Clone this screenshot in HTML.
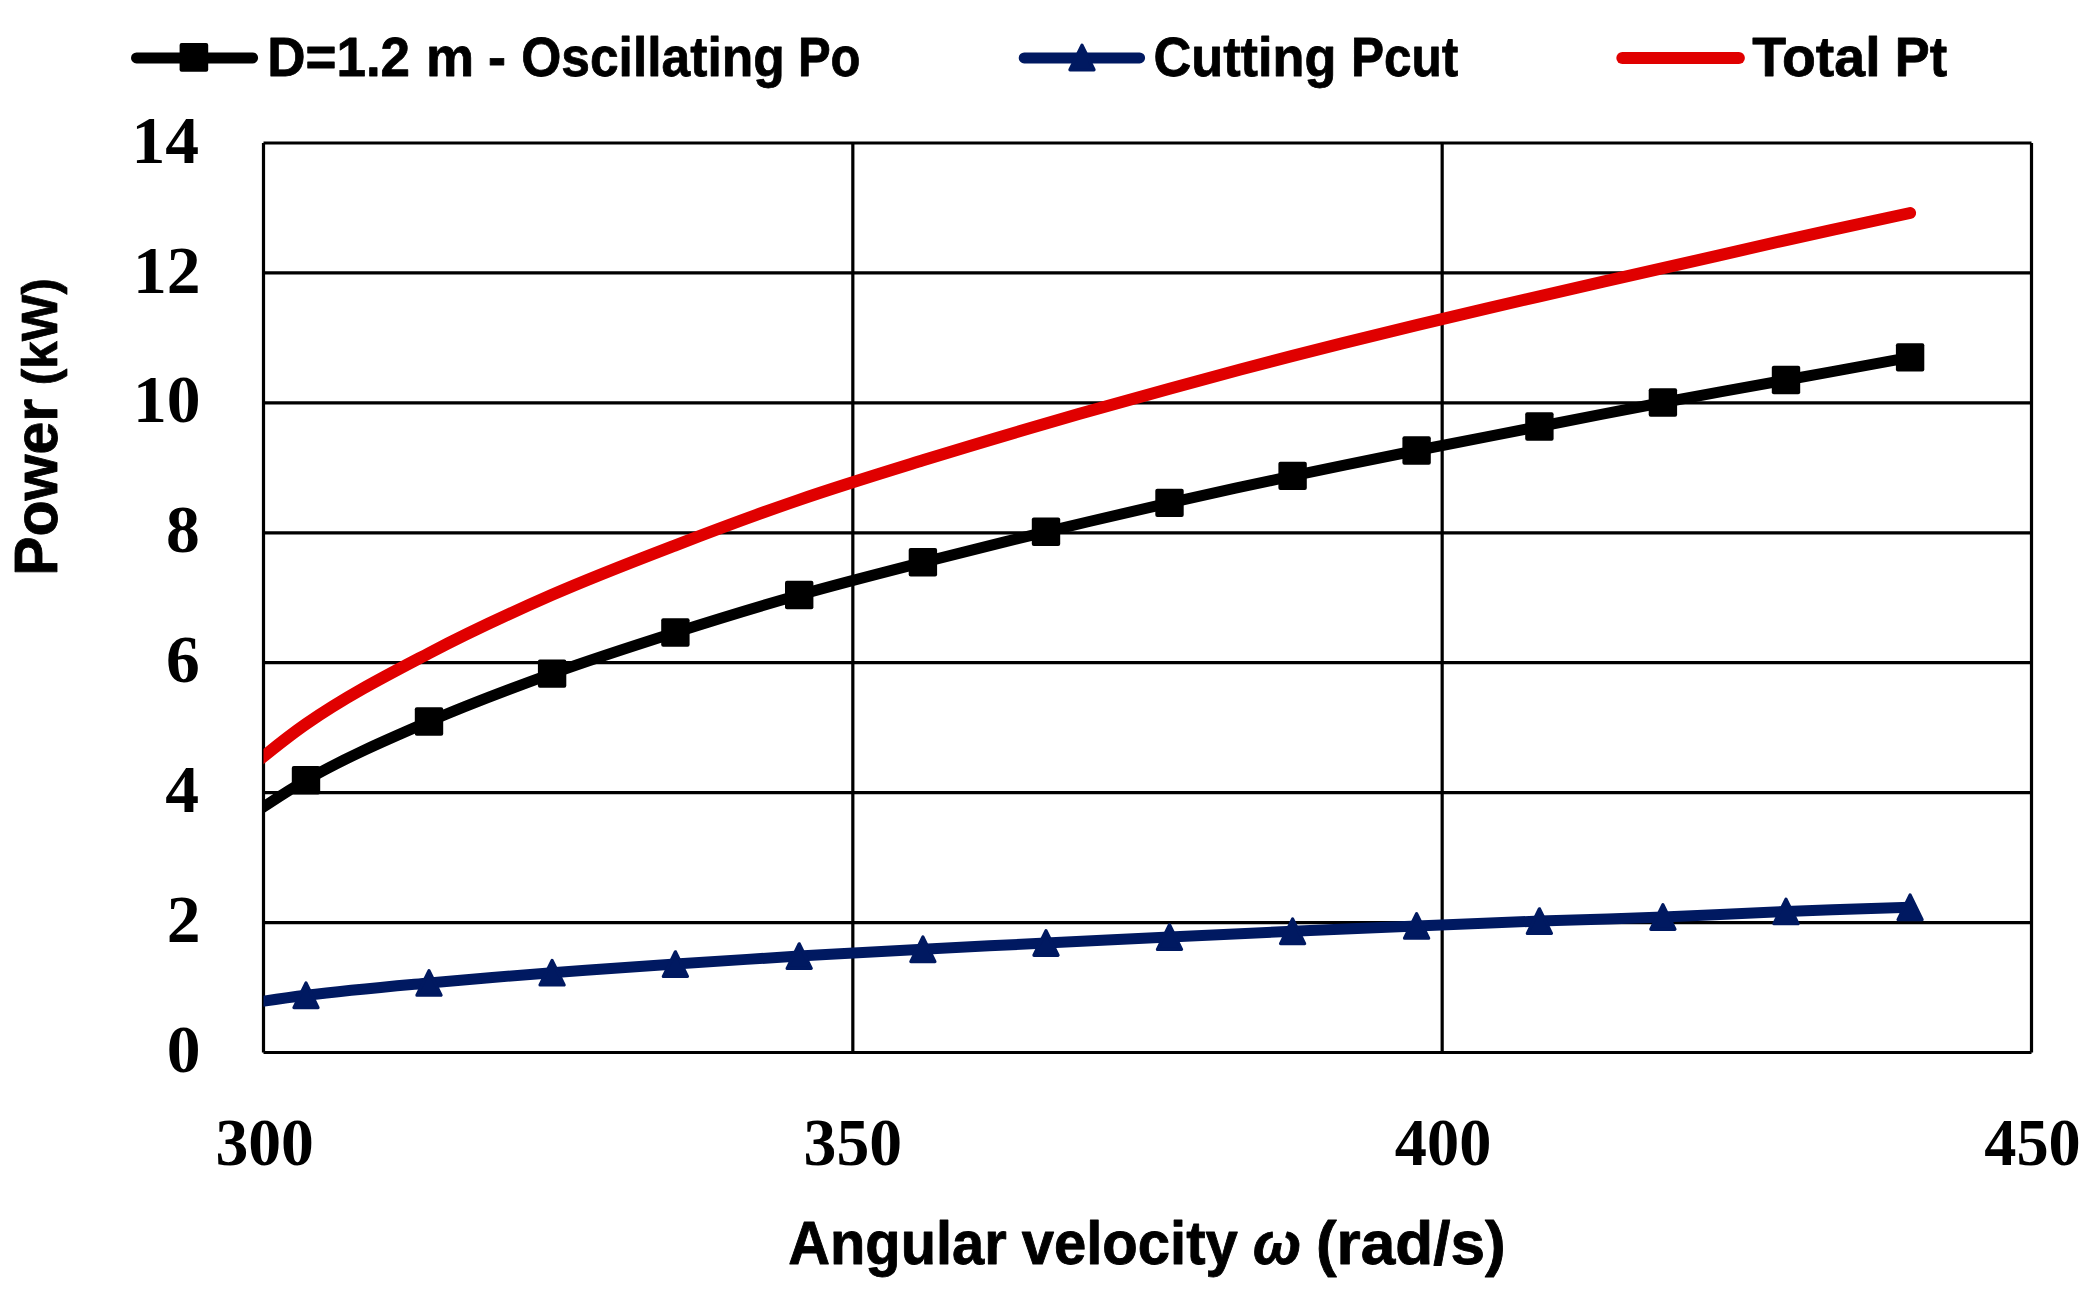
<!DOCTYPE html>
<html lang="en"><head><meta charset="utf-8"><title>Power vs angular velocity</title>
<style>html,body{margin:0;padding:0;background:#fff;overflow:hidden}svg{display:block}</style></head>
<body>
<svg width="2100" height="1296" viewBox="0 0 2100 1296">
<rect width="2100" height="1296" fill="#fff"/>
<path d="M263.50 1052.50H2031.50M263.50 922.57H2031.50M263.50 792.64H2031.50M263.50 662.71H2031.50M263.50 532.79H2031.50M263.50 402.86H2031.50M263.50 272.93H2031.50M263.50 143.00H2031.50M263.50 143.00V1052.50M852.83 143.00V1052.50M1442.17 143.00V1052.50M2031.50 143.00V1052.50" stroke="#000" stroke-width="3.2" fill="none"/>
<defs><clipPath id="c"><rect x="263.50" y="143.00" width="1768.00" height="909.50"/></clipPath></defs>
<g clip-path="url(#c)" fill="none" stroke-linecap="round" stroke-linejoin="round">
<path d="M182.60 862.42C203.17 848.71 264.93 803.69 306.00 780.20C347.07 756.71 387.98 739.27 429.00 721.50C470.02 703.73 511.03 688.43 552.10 673.60C593.17 658.77 634.22 645.60 675.40 632.50C716.58 619.40 757.95 606.70 799.20 595.00C840.45 583.30 881.77 572.83 922.90 562.30C964.03 551.77 1004.90 541.70 1046.00 531.80C1087.10 521.90 1128.40 512.22 1169.50 502.90C1210.60 493.58 1251.42 484.63 1292.60 475.90C1333.78 467.17 1375.47 458.73 1416.60 450.50C1457.73 442.27 1498.35 434.50 1539.40 426.50C1580.45 418.50 1621.80 410.25 1662.90 402.50C1704.00 394.75 1744.80 387.52 1786.00 380.00C1827.20 372.48 1889.42 361.17 1910.10 357.40" stroke="#000" stroke-width="11"/>
<path d="M182.60 1013.34C203.17 1010.33 264.93 1000.37 306.00 995.30C347.07 990.23 387.98 986.67 429.00 982.90C470.02 979.13 511.03 975.83 552.10 972.70C593.17 969.57 634.22 966.87 675.40 964.10C716.58 961.33 757.95 958.57 799.20 956.10C840.45 953.63 881.77 951.48 922.90 949.30C964.03 947.12 1004.90 945.03 1046.00 943.00C1087.10 940.97 1128.40 939.05 1169.50 937.10C1210.60 935.15 1251.42 933.17 1292.60 931.30C1333.78 929.43 1375.47 927.60 1416.60 925.90C1457.73 924.20 1498.35 922.58 1539.40 921.10C1580.45 919.62 1621.80 918.62 1662.90 917.00C1704.00 915.38 1744.80 913.02 1786.00 911.40C1827.20 909.78 1889.42 907.98 1910.10 907.30" stroke="#001961" stroke-width="11"/>
</g>
<rect x="291.80" y="766.00" width="28.4" height="28.4" rx="2" fill="#000"/>
<rect x="414.80" y="707.30" width="28.4" height="28.4" rx="2" fill="#000"/>
<rect x="537.90" y="659.40" width="28.4" height="28.4" rx="2" fill="#000"/>
<rect x="661.20" y="618.30" width="28.4" height="28.4" rx="2" fill="#000"/>
<rect x="785.00" y="580.80" width="28.4" height="28.4" rx="2" fill="#000"/>
<rect x="908.70" y="548.10" width="28.4" height="28.4" rx="2" fill="#000"/>
<rect x="1031.80" y="517.60" width="28.4" height="28.4" rx="2" fill="#000"/>
<rect x="1155.30" y="488.70" width="28.4" height="28.4" rx="2" fill="#000"/>
<rect x="1278.40" y="461.70" width="28.4" height="28.4" rx="2" fill="#000"/>
<rect x="1402.40" y="436.30" width="28.4" height="28.4" rx="2" fill="#000"/>
<rect x="1525.20" y="412.30" width="28.4" height="28.4" rx="2" fill="#000"/>
<rect x="1648.70" y="388.30" width="28.4" height="28.4" rx="2" fill="#000"/>
<rect x="1771.80" y="365.80" width="28.4" height="28.4" rx="2" fill="#000"/>
<rect x="1895.90" y="343.20" width="28.4" height="28.4" rx="2" fill="#000"/>
<path d="M306.00 983.00L318.07 1007.60L293.93 1007.60Z" fill="#001961" stroke="#001961" stroke-width="3.2" stroke-linejoin="round"/>
<path d="M429.00 970.60L441.07 995.20L416.93 995.20Z" fill="#001961" stroke="#001961" stroke-width="3.2" stroke-linejoin="round"/>
<path d="M552.10 960.40L564.17 985.00L540.03 985.00Z" fill="#001961" stroke="#001961" stroke-width="3.2" stroke-linejoin="round"/>
<path d="M675.40 951.80L687.47 976.40L663.33 976.40Z" fill="#001961" stroke="#001961" stroke-width="3.2" stroke-linejoin="round"/>
<path d="M799.20 943.80L811.27 968.40L787.13 968.40Z" fill="#001961" stroke="#001961" stroke-width="3.2" stroke-linejoin="round"/>
<path d="M922.90 937.00L934.97 961.60L910.83 961.60Z" fill="#001961" stroke="#001961" stroke-width="3.2" stroke-linejoin="round"/>
<path d="M1046.00 930.70L1058.07 955.30L1033.93 955.30Z" fill="#001961" stroke="#001961" stroke-width="3.2" stroke-linejoin="round"/>
<path d="M1169.50 924.80L1181.57 949.40L1157.43 949.40Z" fill="#001961" stroke="#001961" stroke-width="3.2" stroke-linejoin="round"/>
<path d="M1292.60 919.00L1304.67 943.60L1280.53 943.60Z" fill="#001961" stroke="#001961" stroke-width="3.2" stroke-linejoin="round"/>
<path d="M1416.60 913.60L1428.67 938.20L1404.53 938.20Z" fill="#001961" stroke="#001961" stroke-width="3.2" stroke-linejoin="round"/>
<path d="M1539.40 908.80L1551.47 933.40L1527.33 933.40Z" fill="#001961" stroke="#001961" stroke-width="3.2" stroke-linejoin="round"/>
<path d="M1662.90 904.70L1674.97 929.30L1650.83 929.30Z" fill="#001961" stroke="#001961" stroke-width="3.2" stroke-linejoin="round"/>
<path d="M1786.00 899.10L1798.07 923.70L1773.93 923.70Z" fill="#001961" stroke="#001961" stroke-width="3.2" stroke-linejoin="round"/>
<path d="M1910.10 895.00L1922.17 919.60L1898.03 919.60Z" fill="#001961" stroke="#001961" stroke-width="3.2" stroke-linejoin="round"/>
<g clip-path="url(#c)" fill="none" stroke-linecap="round" stroke-linejoin="round">
<path d="M182.60 823.97C203.17 807.31 264.93 752.46 306.00 724.00C347.07 695.54 387.98 674.73 429.00 653.20C470.02 631.67 511.03 612.78 552.10 594.80C593.17 576.82 634.22 561.13 675.40 545.30C716.58 529.47 757.95 513.97 799.20 499.80C840.45 485.63 881.77 473.02 922.90 460.30C964.03 447.58 1004.90 435.43 1046.00 423.50C1087.10 411.57 1128.40 399.97 1169.50 388.70C1210.60 377.43 1251.42 366.50 1292.60 355.90C1333.78 345.30 1375.47 335.03 1416.60 325.10C1457.73 315.17 1498.35 305.78 1539.40 296.30C1580.45 286.82 1621.80 277.57 1662.90 268.20C1704.00 258.83 1744.80 249.30 1786.00 240.10C1827.20 230.90 1889.42 217.52 1910.10 213.00" stroke="#E00000" stroke-width="12"/>
</g>
<path d="M136.5 57.9H252.6" stroke="#000" stroke-width="11" stroke-linecap="round"/>
<rect x="179.60" y="43.10" width="28.6" height="28.6" rx="2" fill="#000"/>
<path d="M1024.2 57.9H1139.6" stroke="#001961" stroke-width="11" stroke-linecap="round"/>
<path d="M1082.00 45.20L1094.07 69.80L1069.93 69.80Z" fill="#001961" stroke="#001961" stroke-width="3.2" stroke-linejoin="round"/>
<path d="M1622.3 58.0H1738.9" stroke="#E00000" stroke-width="12" stroke-linecap="round"/>
<g fill="#000" stroke="#000" stroke-width="1.4" stroke-linejoin="round">
<text transform="translate(267.16 75.80) scale(0.5303 0.5507)" font-family='"Liberation Sans", sans-serif' font-weight="bold" font-style="normal" font-size="100">D=1.2</text>
<text transform="translate(426.09 75.80) scale(0.5413 0.5507)" font-family='"Liberation Sans", sans-serif' font-weight="bold" font-style="normal" font-size="100">m</text>
<text transform="translate(488.11 75.80) scale(0.5417 0.5507)" font-family='"Liberation Sans", sans-serif' font-weight="bold" font-style="normal" font-size="100">-</text>
<text transform="translate(521.20 75.80) scale(0.5155 0.5507)" font-family='"Liberation Sans", sans-serif' font-weight="bold" font-style="normal" font-size="100">Oscillating</text>
<text transform="translate(797.91 75.80) scale(0.4899 0.5507)" font-family='"Liberation Sans", sans-serif' font-weight="bold" font-style="normal" font-size="100">Po</text>
<text transform="translate(1153.47 75.80) scale(0.5232 0.5507)" font-family='"Liberation Sans", sans-serif' font-weight="bold" font-style="normal" font-size="100">Cutting</text>
<text transform="translate(1350.88 75.80) scale(0.4957 0.5507)" font-family='"Liberation Sans", sans-serif' font-weight="bold" font-style="normal" font-size="100">Pcut</text>
<text transform="translate(1752.23 75.80) scale(0.5544 0.5507)" font-family='"Liberation Sans", sans-serif' font-weight="bold" font-style="normal" font-size="100">Total</text>
<text transform="translate(1894.80 75.80) scale(0.5236 0.5507)" font-family='"Liberation Sans", sans-serif' font-weight="bold" font-style="normal" font-size="100">Pt</text>
<text transform="translate(788.27 1263.70) scale(0.5785 0.6130)" font-family='"Liberation Sans", sans-serif' font-weight="bold" font-style="normal" font-size="100">Angular</text>
<text transform="translate(1021.63 1263.70) scale(0.5806 0.6130)" font-family='"Liberation Sans", sans-serif' font-weight="bold" font-style="normal" font-size="100">velocity</text>
<text transform="translate(1315.93 1263.70) scale(0.6210 0.6130)" font-family='"Liberation Sans", sans-serif' font-weight="bold" font-style="normal" font-size="100">(rad/s)</text>
<text transform="translate(1253.07 1264.11) scale(0.5753 0.5891)" font-family='"Liberation Sans", sans-serif' font-weight="bold" font-style="italic" font-size="100">ω</text>
</g><g fill="#000">
<text transform="translate(166.70 1072.10) scale(0.6760 0.6760)" font-family='"Liberation Serif", serif' font-weight="bold" font-style="normal" font-size="100">0</text>
<text transform="translate(166.70 942.17) scale(0.6760 0.6760)" font-family='"Liberation Serif", serif' font-weight="bold" font-style="normal" font-size="100">2</text>
<text transform="translate(165.35 812.24) scale(0.6760 0.6760)" font-family='"Liberation Serif", serif' font-weight="bold" font-style="normal" font-size="100">4</text>
<text transform="translate(166.03 682.31) scale(0.6760 0.6760)" font-family='"Liberation Serif", serif' font-weight="bold" font-style="normal" font-size="100">6</text>
<text transform="translate(166.03 552.39) scale(0.6760 0.6760)" font-family='"Liberation Serif", serif' font-weight="bold" font-style="normal" font-size="100">8</text>
<text transform="translate(132.90 422.46) scale(0.6760 0.6760)" font-family='"Liberation Serif", serif' font-weight="bold" font-style="normal" font-size="100">10</text>
<text transform="translate(132.90 292.53) scale(0.6760 0.6760)" font-family='"Liberation Serif", serif' font-weight="bold" font-style="normal" font-size="100">12</text>
<text transform="translate(131.55 162.60) scale(0.6760 0.6760)" font-family='"Liberation Serif", serif' font-weight="bold" font-style="normal" font-size="100">14</text>
<text transform="translate(215.42 1164.70) scale(0.6570 0.6760)" font-family='"Liberation Serif", serif' font-weight="bold" font-style="normal" font-size="100">300</text>
<text transform="translate(803.56 1164.70) scale(0.6570 0.6760)" font-family='"Liberation Serif", serif' font-weight="bold" font-style="normal" font-size="100">350</text>
<text transform="translate(1394.87 1164.70) scale(0.6434 0.6760)" font-family='"Liberation Serif", serif' font-weight="bold" font-style="normal" font-size="100">400</text>
<text transform="translate(1984.21 1164.70) scale(0.6434 0.6760)" font-family='"Liberation Serif", serif' font-weight="bold" font-style="normal" font-size="100">450</text>
</g>
<g fill="#000" stroke="#000" stroke-width="1.4" stroke-linejoin="round" transform="translate(57 0) rotate(-90)">
<text transform="translate(-575.82 0) scale(0.5900 0.6145)" font-family='"Liberation Sans", sans-serif' font-weight="bold" font-size="100">Power</text>
<text transform="translate(-385.13 0) scale(0.4947 0.5070)" font-family='"Liberation Sans", sans-serif' font-weight="bold" font-size="100">(kW)</text>
</g>
</svg>
</body></html>
